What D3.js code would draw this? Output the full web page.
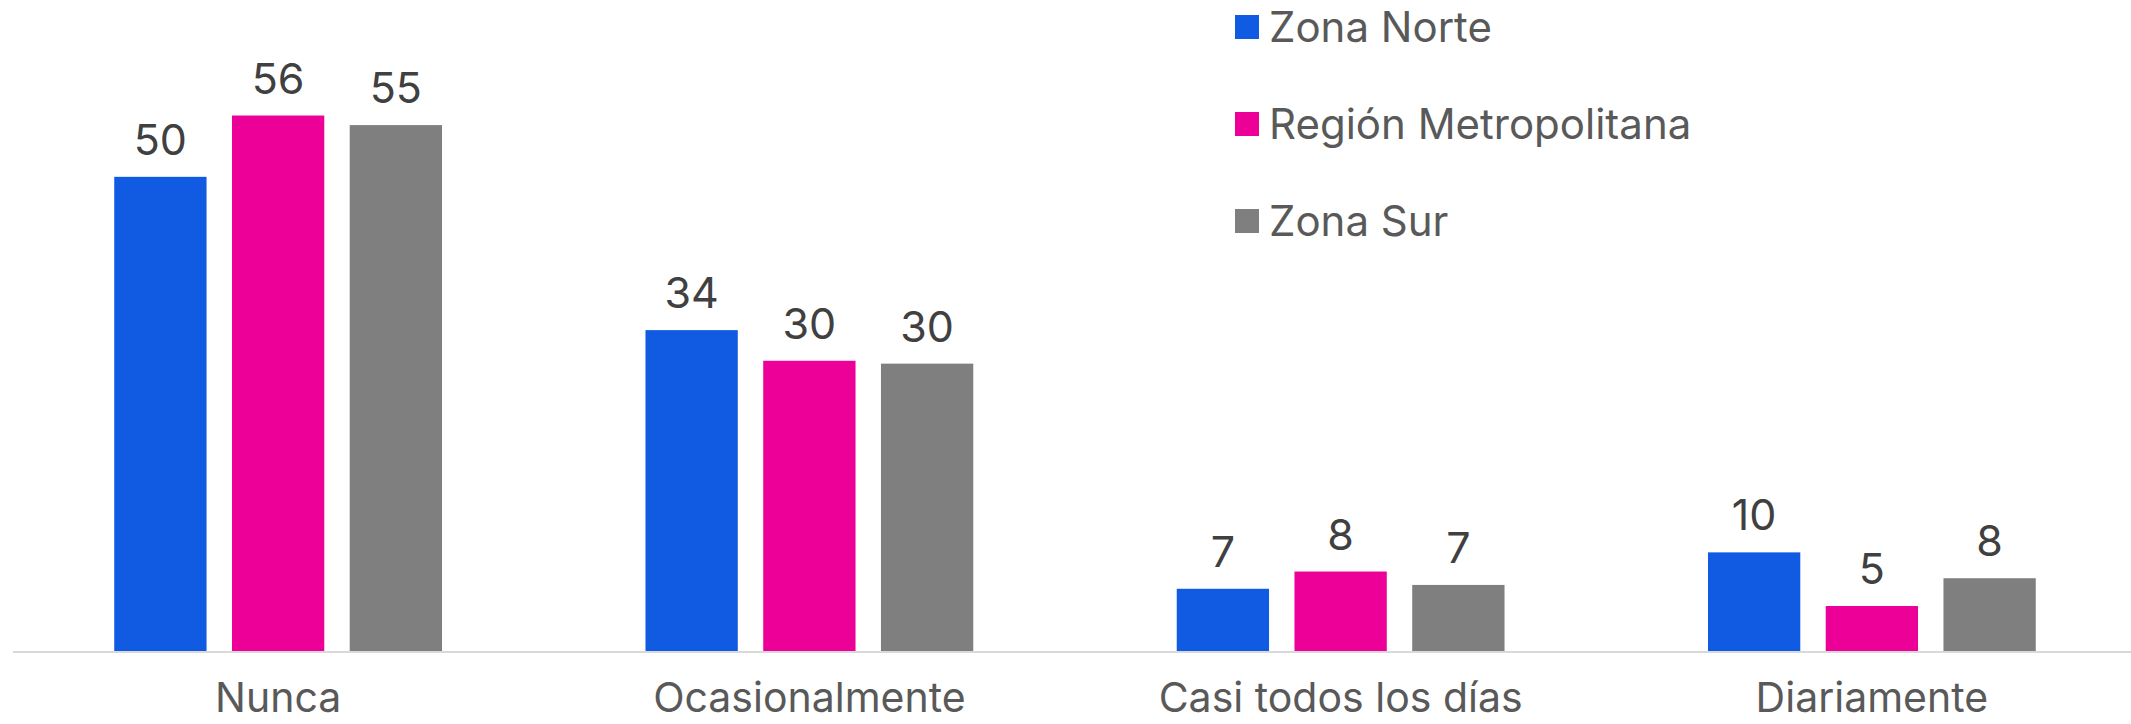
<!DOCTYPE html>
<html>
<head>
<meta charset="utf-8">
<script src="https://cdn.jsdelivr.net/npm/d3@7"></script>
<style>
  html, body { margin: 0; padding: 0; background: #fff; }
  svg { display: block; font-family: Inter, "Noto Sans", sans-serif; }
</style>
</head>
<body>
<svg id="chart"></svg>
<script>
const width = 2131;
const height = 724;

const categories = ['Nunca', 'Ocasionalmente', 'Casi todos los días', 'Diariamente'];
const seriesNames = ['Zona Norte', 'Región Metropolitana', 'Zona Sur'];
const zonaNorte = [49.6, 33.6, 6.6, 10.4];
const regionMetropolitana = [56.0, 30.4, 8.4, 4.8];
const zonaSur = [55.0, 30.1, 7.0, 7.7];
const colors = ['#115BE3', '#EC0098', '#7F7F7F'];

const series = [zonaNorte, regionMetropolitana, zonaSur];

const baseline = 652;

const svg = d3.select('#chart')
    .attr('width', width)
    .attr('height', height);

const x0 = d3.scaleBand()
    .domain(categories)
    .range([12.5, 2137.5])
    .paddingInner(0.383)
    .paddingOuter(0.1915);

const x1 = d3.scaleBand()
    .domain(d3.range(series.length))
    .range([0, x0.bandwidth()])
    .paddingInner(0.216);

// 9.58 px per unit
const y = d3.scaleLinear()
    .domain([0, 60])
    .range([baseline, baseline - 9.58 * 60]);

const fmt = d3.format('.0f');

const groups = svg.append('g')
    .selectAll('g')
    .data(categories)
    .enter()
    .append('g')
    .attr('transform', d => `translate(${x0(d)},0)`);

groups.selectAll('rect')
    .data((c, i) => series.map((s, j) => ({ s: j, v: s[i] })))
    .enter()
    .append('rect')
    .attr('x', d => x1(d.s))
    .attr('y', d => y(d.v))
    .attr('width', x1.bandwidth())
    .attr('height', d => baseline - y(d.v))
    .attr('fill', d => colors[d.s]);

groups.selectAll('text')
    .data((c, i) => series.map((s, j) => ({ s: j, v: s[i] })))
    .enter()
    .append('text')
    .attr('x', d => x1(d.s) + x1.bandwidth() / 2)
    .attr('y', d => y(d.v) - 22)
    .attr('text-anchor', 'middle')
    .attr('font-size', 43)
    .attr('fill', '#404040')
    .text(d => fmt(d.v));

// axis
const xAxis = svg.append('g')
    .attr('transform', `translate(0, ${baseline})`)
    .call(d3.axisBottom(x0).tickSize(0).tickPadding(0));

xAxis.select('.domain')
    .attr('stroke', '#d9d9d9')
    .attr('stroke-width', 2)
    .attr('d', `M13,0H${width}`);

xAxis.selectAll('text')
    .attr('font-family', 'Inter, "Noto Sans", sans-serif')
    .attr('font-size', 41)
    .attr('fill', '#595959')
    .attr('dy', null)
    .attr('y', 60);

// legend
const legend = svg.append('g')
    .selectAll('g')
    .data(seriesNames)
    .enter()
    .append('g')
    .attr('transform', (d, i) => `translate(1235, ${27 + i * 97})`);

legend.append('rect')
    .attr('x', 0)
    .attr('y', -12)
    .attr('width', 24)
    .attr('height', 24)
    .attr('fill', (d, i) => colors[i]);

legend.append('text')
    .attr('x', 34)
    .attr('y', 0)
    .attr('dy', '0.35em')
    .attr('font-size', 42)
    .attr('fill', '#595959')
    .text(d => d);
</script>
</body>
</html>
